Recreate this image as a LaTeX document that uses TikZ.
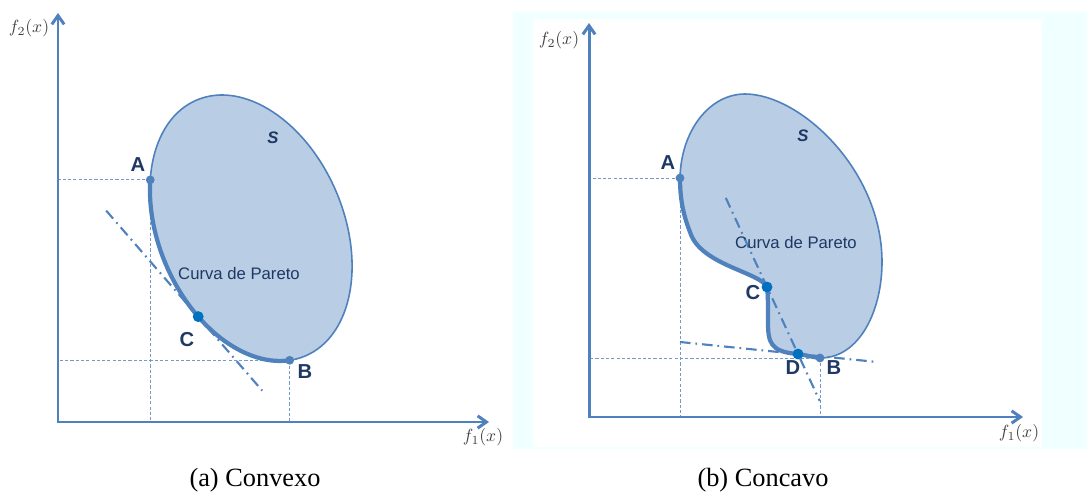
\documentclass[tikz,border=0pt]{standalone}
\usepackage{fontspec}
\setmainfont{Liberation Serif}
\setsansfont{Liberation Sans}
\usepackage{tikz}
\usetikzlibrary{arrows.meta,calc}
\definecolor{azul}{RGB}{79,129,189}
\definecolor{azulclaro}{RGB}{185,205,229}
\definecolor{azulpt}{RGB}{0,112,192}
\definecolor{marinho}{RGB}{31,56,100}
\definecolor{fundo}{RGB}{240,255,255}
\tikzset{
  ax/.style={draw=azul,line width=1.7pt,line join=miter,{Straight Barb[length=5pt,width=7pt]}-{Straight Barb[length=5pt,width=7pt]}},
  reg/.style={fill=azulclaro,draw=azul,line width=0.9pt},
  pareto/.style={draw=azul,line width=2.4pt,line cap=round},
  gd/.style={draw=azul!80,line width=0.45pt,dash pattern=on 1.8pt off 1.2pt},
  tg/.style={draw=azul,line width=1.2pt,dash pattern=on 6pt off 2.8pt on 1pt off 2.8pt},
  pt/.style={circle,fill=azul,inner sep=0pt,minimum size=5pt},
  ptc/.style={circle,fill=azulpt,inner sep=0pt,minimum size=6.2pt},
  lbl/.style={font=\sffamily\bfseries\fontsize{11.5}{13}\selectfont,text=marinho,inner sep=0pt},
  txt/.style={font=\sffamily\fontsize{9.5}{11}\selectfont,text=marinho,inner sep=0pt},
  sset/.style={font=\sffamily\bfseries\itshape\fontsize{9.5}{11}\selectfont,text=marinho,inner sep=0pt},
  fx/.style={font=\fontsize{10}{12}\selectfont,text=black!75,inner sep=0pt},
  legenda/.style={font=\fontsize{15}{18}\selectfont,inner sep=0pt},
}
\begin{document}
\begin{tikzpicture}[x=0.02cm,y=-0.02cm]
  \useasboundingbox (0,0) rectangle (1087,493);
  \fill[fundo] (513,12) rectangle (1087,449);
  \fill[white] (533,19) rectangle (1042,447);

  % (a) convexo
  \coordinate (O1) at (58,422); \coordinate (Y1) at (58,13); \coordinate (X1) at (489,422);
  \begin{scope}[shift={(251,228)},y=0.02cm,rotate=113]
    \coordinate (A1) at (53:139 and 92.6);
    \coordinate (C1) at (116:139 and 92.6);
    \coordinate (B1) at (170:139 and 92.6);
  \end{scope}
  \draw[gd] (A1) -- (A1 -| O1) (A1) -- (A1 |- O1) (B1) -- (B1 -| O1) (B1) -- (B1 |- O1);
  \begin{scope}[shift={(251,228)},y=0.02cm,rotate=113]
    \draw[reg] (0,0) ellipse [x radius=139,y radius=92.6];
    \draw[pareto] (53:139 and 92.6) arc [start angle=53,end angle=170,x radius=139,y radius=92.6];
  \end{scope}
  \draw[tg] ($(C1)+(-92,-106)$) -- ($(C1)+(64,74)$);
  \draw[ax] (Y1) -- (O1) -- (X1);
  \node[pt] (pA1) at (A1) {}; \node[pt] (pB1) at (B1) {}; \node[ptc] (pC1) at (C1) {};
  \node[lbl] (lA1) at (138,165) {A};
  \node[lbl] (lB1) at (305,372) {B};
  \node[lbl] (lC1) at (187,340) {C};
  \node[sset] (s1) at (273,138) {S};
  \node[txt] (cp1) at (239,274) {Curva de Pareto};
  \node[fx] (f2a) at (29,28) {$f_2(x)$};
  \node[fx] (f1a) at (483,437) {$f_1(x)$};
  \node[legenda] (capa) at (255,480) {(a) Convexo};

  % (b) concavo
  \coordinate (O2) at (589,417); \coordinate (Y2) at (589,23); \coordinate (X2) at (1023,417);
  \coordinate (A2) at (680,178); \coordinate (B2) at (820,358);
  \coordinate (C2) at (767,287); \coordinate (D2) at (798,354);
  \draw[gd] (A2) -- (A2 -| O2) (A2) -- (A2 |- O2) (B2) -- (B2 -| O2) (B2) -- (B2 |- O2);
  \fill[azulclaro] (A2) .. controls (681,130) and (710,94) .. (745,94) .. controls (800,94) and (882,170) .. (882,262)
    .. controls (882,310) and (860,358) .. (B2) .. controls (812,357) and (805,355) .. (D2)
    .. controls (770,352) and (768,342) .. (768,322) .. controls (768,305) and (768,295) .. (C2)
    .. controls (760,272) and (700,265) .. (690,232) .. controls (682,212) and (680,195) .. (A2) -- cycle;
  \draw[reg,fill=none] (A2) .. controls (681,130) and (710,94) .. (745,94) .. controls (800,94) and (882,170) .. (882,262)
    .. controls (882,310) and (860,358) .. (B2);
  \draw[pareto] (B2) .. controls (812,357) and (805,355) .. (D2)
    .. controls (770,352) and (768,342) .. (768,322) .. controls (768,305) and (768,295) .. (C2)
    .. controls (760,272) and (700,265) .. (690,232) .. controls (682,212) and (680,195) .. (A2);
  \draw[tg] ($(D2)+(-118,-12)$) -- ($(D2)+(79,8)$);
  \draw[tg] ($(C2)!-1.33!(D2)$) -- ($(C2)!1.7!(D2)$);
  \draw[ax] (Y2) -- (O2) -- (X2);
  \node[pt] (pA2) at (A2) {}; \node[pt] (pB2) at (B2) {};
  \node[ptc] (pC2) at (C2) {}; \node[ptc] (pD2) at (D2) {};
  \node[lbl] (lA2) at (668,163) {A};
  \node[lbl] (lB2) at (834,368) {B};
  \node[lbl] (lC2) at (753,293) {C};
  \node[lbl] (lD2) at (793,368) {D};
  \node[sset] (s2) at (803,136) {S};
  \node[txt] (cp2) at (796,243) {Curva de Pareto};
  \node[fx] (f2b) at (559,40) {$f_2(x)$};
  \node[fx] (f1b) at (1019,433) {$f_1(x)$};
  \node[legenda] (capb) at (763,480) {(b) Concavo};
\end{tikzpicture}
\end{document}
